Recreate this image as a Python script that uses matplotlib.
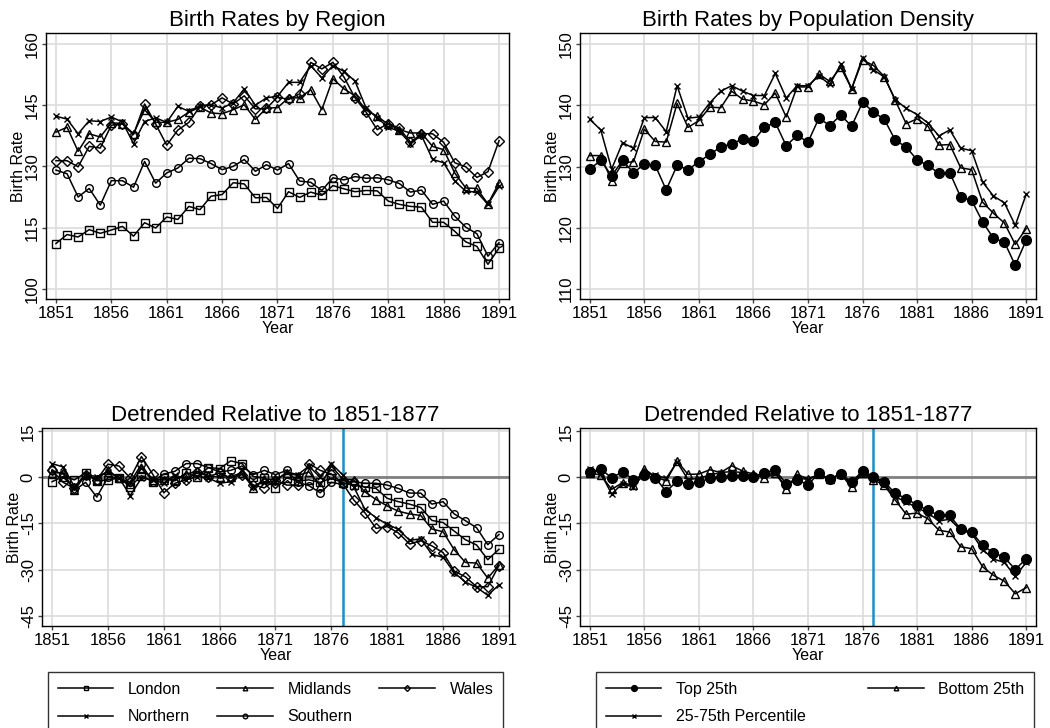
import matplotlib
matplotlib.use("Agg")
import matplotlib.pyplot as plt
import numpy as np

plt.rcParams["font.family"] = ["Liberation Sans", "DejaVu Sans"]
plt.rcParams["axes.unicode_minus"] = False

years = np.arange(1851, 1892)

# Birth rates by region
london = [111.1, 113.3, 112.7, 114.5, 113.6, 114.4, 115.3, 112.9, 116.2, 114.9,
          117.6, 117.0, 120.2, 119.4, 122.7, 123.1, 126.0, 125.7, 122.3, 122.4,
          119.7, 123.8, 122.4, 123.7, 122.9, 125.3, 124.5, 123.8, 124.1, 124.0,
          121.5, 120.7, 120.2, 120.0, 116.3, 116.3, 114.1, 111.5, 110.4, 106.0,
          110.0]
southern = [129.1, 128.2, 122.5, 124.6, 120.5, 126.5, 126.5, 124.9, 131.2, 125.9,
            128.4, 129.6, 132.0, 131.9, 130.7, 129.2, 130.0, 131.7, 128.8, 130.4,
            129.1, 130.7, 126.4, 126.1, 124.1, 127.2, 126.7, 127.5, 127.1, 127.2,
            126.7, 125.8, 123.7, 124.2, 120.7, 121.5, 117.8, 115.1, 113.5, 108.0,
            111.3]
midlands = [138.4, 139.6, 133.7, 138.0, 137.2, 140.7, 140.5, 138.0, 143.9, 140.8,
            140.8, 141.5, 143.3, 144.5, 143.1, 142.9, 143.9, 145.1, 141.5, 144.3,
            144.4, 146.8, 146.8, 148.8, 143.9, 151.5, 149.0, 147.3, 143.8, 142.3,
            140.3, 139.0, 138.2, 138.2, 134.9, 134.1, 128.4, 124.7, 124.6, 120.8,
            126.0]
northern = [142.3, 141.6, 138.0, 141.2, 141.0, 142.1, 140.9, 135.6, 141.0, 141.9,
            140.8, 144.7, 143.5, 144.9, 145.1, 144.3, 145.6, 149.0, 145.0, 146.8,
            147.2, 150.6, 150.6, 154.7, 151.7, 154.7, 153.3, 150.9, 144.3, 141.9,
            139.6, 138.6, 135.6, 137.6, 131.7, 130.9, 126.4, 123.9, 123.7, 120.7,
            125.1]
wales = [131.4, 131.4, 129.9, 134.9, 134.5, 140.1, 140.4, 137.8, 145.3, 140.4,
         135.2, 138.9, 140.8, 144.7, 145.1, 146.8, 145.3, 147.3, 144.1, 144.2,
         147.0, 146.4, 147.8, 155.5, 153.9, 155.5, 151.9, 146.8, 143.3, 139.0,
         140.5, 139.4, 135.9, 138.0, 138.0, 135.9, 130.9, 129.9, 127.3, 128.7,
         136.3]

# Birth rates by population density
top25 = [129.6, 131.0, 128.5, 131.0, 129.0, 130.4, 130.2, 126.2, 130.2, 129.5,
         130.8, 132.0, 133.2, 133.7, 134.5, 134.2, 136.4, 137.2, 133.4, 135.1,
         134.0, 137.9, 136.7, 138.4, 136.6, 140.5, 138.9, 137.7, 134.3, 133.2,
         131.1, 130.2, 128.9, 129.0, 125.0, 124.5, 121.0, 118.3, 117.7, 113.9,
         118.0]
bottom25 = [131.8, 131.8, 127.7, 130.6, 130.8, 136.1, 134.1, 134.0, 140.3, 136.4,
            137.5, 139.7, 139.6, 142.3, 141.0, 140.7, 140.1, 142.0, 138.1, 143.0,
            143.0, 145.1, 143.9, 146.2, 142.7, 147.4, 146.5, 144.7, 140.8, 137.0,
            137.8, 136.6, 133.5, 133.6, 129.8, 129.5, 124.2, 122.4, 120.8, 117.3,
            119.9]
mid_pct = [137.7, 136.0, 129.6, 133.9, 133.0, 138.0, 138.0, 135.7, 143.2, 137.9,
           138.1, 140.4, 142.3, 143.2, 142.3, 141.6, 141.6, 145.2, 141.2, 143.2,
           143.2, 144.8, 143.4, 146.7, 142.7, 147.8, 145.8, 144.6, 140.9, 139.5,
           138.5, 137.1, 135.0, 136.0, 133.0, 132.6, 127.5, 125.2, 124.1, 120.4,
           125.5]

# Detrended (relative to 1851-1877), by region
london_d = [-1.4, 0.3, -0.8, 1.5, -1.1, -0.8, -0.2, -3.0, 0.6, -1.4,
            -0.2, -1.1, 1.5, 0.3, 3.2, 2.9, 5.4, 4.5, 0.3, -0.2,
            -3.6, -0.2, -1.1, -0.8, -1.6, -0.2, -1.7, -2.5, -3.1, -3.6,
            -6.8, -7.9, -8.7, -9.8, -14.0, -14.7, -17.5, -20.3, -22.0, -26.8,
            -23.4]
midlands_d = [1.5, 1.5, -4.2, 0.9, -0.8, 2.3, -0.2, -2.3, 2.9, -0.8,
              -0.8, -0.8, 1.1, 2.0, 0.7, 0.0, 0.3, 1.5, -3.4, -0.5,
              -0.8, 1.5, 0.6, 1.8, -2.7, 3.7, -0.5, -0.8, -4.7, -7.2,
              -9.3, -11.0, -11.9, -12.4, -16.8, -17.7, -23.6, -27.7, -27.9, -32.8,
              -28.5]
wales_d = [2.3, -1.6, -3.6, 0.9, -0.8, 4.3, 3.7, -0.2, 6.8, 1.1,
           -5.0, -1.9, -0.8, 1.8, 0.3, 1.5, -0.2, 0.9, -2.5, -3.4,
           -0.8, -2.5, -2.5, 4.5, 2.3, 1.1, -1.9, -7.3, -11.5, -16.6,
           -16.0, -18.1, -21.7, -20.6, -22.3, -24.5, -30.5, -32.4, -35.6, -35.6,
           -28.7]
northern_d = [4.5, 3.4, -3.0, 0.9, 0.3, 1.8, -0.2, -5.9, -0.2, -0.8,
              -1.9, 0.9, -0.8, 0.3, -0.2, -1.9, -1.4, 2.3, -3.0, -1.4,
              -1.4, 1.8, 0.9, 3.7, 0.0, 4.5, 0.9, -3.0, -10.4, -13.1,
              -15.3, -16.9, -20.5, -20.0, -25.1, -26.0, -31.0, -34.1, -35.8, -38.4,
              -35.0]
southern_d = [2.3, 1.1, -4.2, -1.6, -6.4, 0.0, -0.2, -1.6, 4.3, -1.4,
              1.1, 2.0, 4.5, 4.5, 3.2, 1.8, 2.3, 3.7, 0.9, 2.3,
              0.9, 2.3, -1.6, -2.7, -5.0, -1.6, -2.3, -1.4, -1.9, -1.9,
              -2.5, -3.6, -5.1, -5.1, -8.7, -7.9, -11.9, -14.1, -16.4, -21.9,
              -18.6]

# Detrended, by population density
top25_d = [1.7, 2.7, -0.1, 1.8, -0.7, 0.8, -0.1, -4.6, -1.2, -2.3,
           -1.5, -0.3, 0.2, 0.5, 0.6, 0.2, 1.6, 2.3, -2.0, -0.7,
           -2.4, 1.4, -0.6, 1.1, -1.5, 2.1, 0.2, -1.5, -5.2, -6.9,
           -9.0, -10.7, -12.4, -12.4, -16.9, -17.8, -22.1, -24.6, -26.0, -30.0,
           -26.5]
bottom25_d = [1.4, 0.8, -3.9, -1.7, -2.6, 2.8, 0.2, -1.1, 5.3, 1.0,
              1.1, 2.5, 1.6, 3.8, 2.1, 1.1, -0.3, 1.4, -3.7, 1.0,
              -0.5, 1.0, -0.6, 1.1, -3.2, 1.6, -0.7, -2.6, -7.4, -12.0,
              -11.6, -13.5, -17.2, -17.8, -22.6, -23.2, -29.1, -31.9, -33.8, -37.9,
              -35.9]
mid_pct_d = [2.9, 1.4, -5.4, -2.0, -3.2, 1.4, 0.8, -0.3, 5.0, -0.7,
             -0.3, 0.8, 1.6, 1.9, 1.6, 0.2, 0.5, 1.6, -3.2, -0.1,
             -0.7, 1.0, -0.9, 1.4, -2.3, 2.1, -0.1, -2.0, -6.3, -8.0,
             -9.9, -11.6, -14.2, -13.6, -17.2, -18.2, -23.5, -26.6, -27.7, -32.2,
             -27.7]

region_styles = [
    ("London", "s"),
    ("Midlands", "^"),
    ("Wales", "D"),
    ("Northern", "x"),
    ("Southern", "o"),
]
density_styles = [
    ("Top 25th", "o"),
    ("Bottom 25th", "^"),
    ("25-75th Percentile", "x"),
]

W, H = 1050, 728
fig = plt.figure(figsize=(W / 100, H / 100), dpi=100)


def px_axes(left, top, right, bottom):
    return fig.add_axes([left / W, 1 - bottom / H, (right - left) / W, (bottom - top) / H])


def style_axes(ax, title, yticks, ylim):
    ax.set_xlim(1850.1, 1891.9)
    ax.set_ylim(*ylim)
    ax.set_xticks(np.arange(1851, 1892, 5))
    ax.set_yticks(yticks)
    ax.grid(True, color="#dcdcdc", linewidth=1.2)
    ax.set_axisbelow(True)
    for spine in ax.spines.values():
        spine.set_color("black")
        spine.set_linewidth(1.0)
    ax.tick_params(labelsize=12, length=3, width=1, color="#444444")
    ax.tick_params(axis="x", pad=2)
    ax.tick_params(axis="y", pad=1.5)
    plt.setp(ax.get_yticklabels(), rotation=90, va="center")
    ax.set_title(title, fontsize=16, pad=5)
    ax.set_xlabel("Year", fontsize=11.5, labelpad=0)
    ax.set_ylabel("Birth Rate", fontsize=11.5, labelpad=-1)


def plot_series(ax, series, styles):
    lines = []
    for values, (label, marker) in zip(series, styles):
        filled = label == "Top 25th"
        if filled:
            size = 7.0
        elif marker == "x":
            size = 4.5
        elif marker == "D":
            size = 5.0
        else:
            size = 5.5
        (line,) = ax.plot(
            years, values, color="black", linewidth=1.1, marker=marker,
            markersize=size, markeredgewidth=1.0, markeredgecolor="black",
            markerfacecolor="black" if filled else "none", label=label, zorder=3,
        )
        lines.append(line)
    return lines


def add_reference_lines(ax):
    ax.axhline(0, color="#808080", linewidth=2.0, zorder=1.5)
    ax.axvline(1877, color="#1a8fc9", linewidth=1.8, zorder=1.5)


ax1 = px_axes(46, 33, 509, 299)
region_lines = plot_series(ax1, [london, midlands, wales, northern, southern], region_styles)
style_axes(ax1, "Birth Rates by Region", [100, 115, 130, 145, 160], (97.5, 162.7))

ax2 = px_axes(580, 33, 1036, 299)
density_lines = plot_series(ax2, [top25, bottom25, mid_pct], density_styles)
style_axes(ax2, "Birth Rates by Population Density", [110, 120, 130, 140, 150], (108.4, 151.8))

ax3 = px_axes(42, 428, 509, 626)
add_reference_lines(ax3)
plot_series(ax3, [london_d, midlands_d, wales_d, northern_d, southern_d], region_styles)
style_axes(ax3, "Detrended Relative to 1851-1877", [15, 0, -15, -30, -45], (-48.4, 16.1))

ax4 = px_axes(580, 428, 1036, 626)
add_reference_lines(ax4)
plot_series(ax4, [top25_d, bottom25_d, mid_pct_d], density_styles)
style_axes(ax4, "Detrended Relative to 1851-1877", [15, 0, -15, -30, -45], (-48.4, 16.1))

legend_kw = dict(
    loc="upper left", mode="expand", fontsize=11.5, frameon=True, fancybox=False,
    edgecolor="black", handlelength=3.5, handletextpad=0.9, markerscale=0.6,
    labelspacing=0.8, borderpad=0.6, borderaxespad=0,
)
order = [0, 3, 1, 4, 2]
leg1 = fig.legend([region_lines[i] for i in order],
                  [region_styles[i][0] for i in order], ncol=3,
                  bbox_to_anchor=(48 / W, 0, 455 / W, 1 - 672 / H), **legend_kw)
leg1.get_frame().set_linewidth(1.0)

order2 = [0, 2, 1]
leg2 = fig.legend([density_lines[i] for i in order2],
                  [density_styles[i][0] for i in order2], ncol=2,
                  bbox_to_anchor=(596 / W, 0, 438 / W, 1 - 672 / H), **legend_kw)
leg2.get_frame().set_linewidth(1.0)

fig.savefig("out.png", dpi=100)
